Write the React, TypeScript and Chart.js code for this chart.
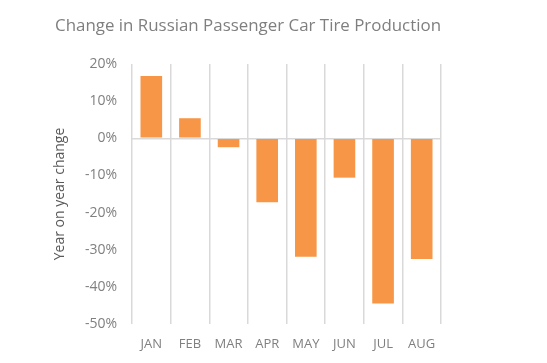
import React, { useEffect, useRef } from "react";
import { Chart, registerables } from "chart.js";

Chart.register(...registerables);

const categories = ["JAN", "FEB", "MAR", "APR", "MAY", "JUN", "JUL", "AUG"];
const changeValues = [16.8, 5.4, -2.4, -17.2, -31.9, -10.6, -44.5, -32.5];
const yTicks = [20, 10, 0, -10, -20, -30, -40, -50];

const FONT = "'Open Sans', 'Noto Sans', sans-serif";
const TEXT = "#808080";
const GRID = "#d9d9d9";

export default function App() {
  const ref = useRef<HTMLCanvasElement | null>(null);

  useEffect(() => {
    if (!ref.current) return;
    const chart = new Chart(ref.current, {
      type: "bar",
      data: {
        labels: categories,
        datasets: [
          {
            label: "Year on year change",
            data: changeValues,
            backgroundColor: "#F79646",
            borderWidth: 0,
            categoryPercentage: 1,
            barPercentage: 0.56,
          },
        ],
      },
      options: {
        responsive: false,
        animation: false,
        layout: { padding: { left: 55, right: 106, top: 0, bottom: 0 } },
        plugins: {
          legend: { display: false },
          tooltip: { enabled: false },
          title: {
            display: true,
            text: "Change in Russian Passenger Car Tire Production",
            color: "#7f7f7f",
            font: { family: FONT, size: 17, weight: "normal" },
            padding: { top: 16, bottom: 27.6 },
          },
        },
        scales: {
          x: {
            grid: {
              offset: true,
              color: GRID,
              lineWidth: 1.5,
              drawTicks: false,
            },
            border: { display: false },
            ticks: {
              color: TEXT,
              font: { family: FONT, size: 13 },
              padding: 12,
            },
            afterFit: (s: any) => {
              s.height = 39;
            },
          },
          y: {
            min: -50,
            max: 20,
            afterBuildTicks: (s: any) => {
              s.ticks = yTicks.map((v) => ({ value: v }));
            },
            grid: {
              color: (c: any) => (c.tick && c.tick.value === 0 ? GRID : "rgba(0,0,0,0)"),
              lineWidth: 1.5,
              drawTicks: false,
            },
            border: { display: false },
            ticks: {
              color: TEXT,
              font: { family: FONT, size: 14 },
              padding: 15,
              callback: (v: any) => `${v}%`,
            },
            title: {
              display: true,
              text: "Year on year change",
              color: "#595959",
              font: { family: FONT, size: 14 },
              padding: { top: -3, bottom: 0 },
            },
            afterFit: (s: any) => {
              s.width = 77;
            },
          },
        },
      },
    });
    return () => chart.destroy();
  }, []);

  return (
    <div style={{ position: "fixed", left: 0, top: 0, width: 547, height: 363, background: "#fff" }}>
      <canvas ref={ref} width={547} height={363} style={{ display: "block" }} />
    </div>
  );
}
